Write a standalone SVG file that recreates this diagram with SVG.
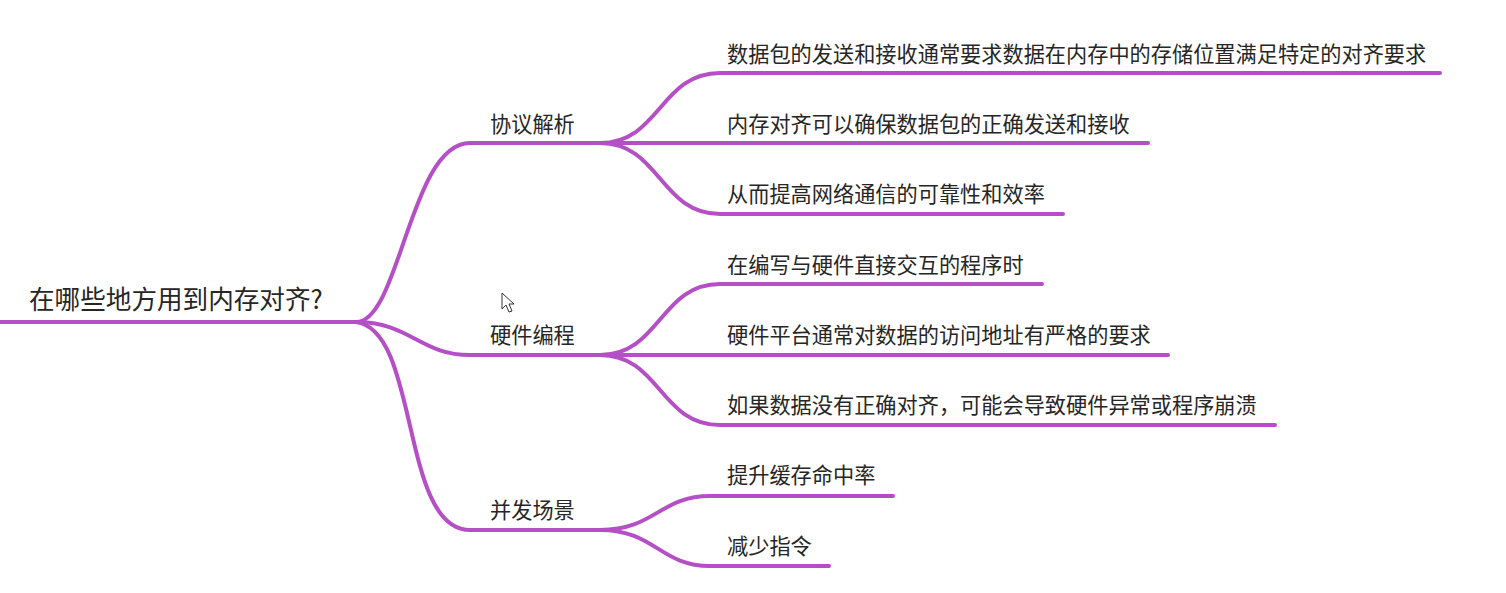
<svg xmlns="http://www.w3.org/2000/svg" width="1506" height="593" viewBox="0 0 1506 593">
<style>
.ln{fill:none;stroke:#B54FC6;stroke-width:4;stroke-linecap:round}
.t{font-family:"Noto Sans CJK SC","Microsoft YaHei",sans-serif;fill:#262626;font-size:21.2px}
.root{font-size:25.6px}
</style>
<rect width="1506" height="593" fill="#ffffff"/>
<g id="connectors">
<path class="ln" d="M0,322 L358,322"/>
<path class="ln" d="M356,322 C400,322 410,143 470,143 L607,143"/>
<path class="ln" d="M356,322 C410,322 420,355 470,355 L607,355"/>
<path class="ln" d="M356,322 C420,330 400,530 470,530 L607,530"/>
<path class="ln" d="M600,143 C660,143 660,73 720,73 L1440,73"/>
<path class="ln" d="M600,143 L1148,143"/>
<path class="ln" d="M600,143 C660,143 660,214 720,214 L1063,214"/>
<path class="ln" d="M600,355 C660,355 660,284 720,284 L1042,284"/>
<path class="ln" d="M600,355 L1168,355"/>
<path class="ln" d="M600,355 C660,355 660,425 720,425 L1275,425"/>
<path class="ln" d="M600,530 C655,530 660,496 710,496 L893,496"/>
<path class="ln" d="M600,530 C655,530 660,566 710,566 L829,566"/>
</g>
<g id="root"><text class="t root" x="29" y="309">在哪些地方用到内存对齐?</text></g>
<g id="b1"><text class="t" x="490" y="132">协议解析</text></g>
<g id="b2"><text class="t" x="490" y="343">硬件编程</text></g>
<g id="b3"><text class="t" x="490" y="518">并发场景</text></g>
<g id="l11"><text class="t" x="727" y="62">数据包的发送和接收通常要求数据在内存中的存储位置满足特定的对齐要求</text></g>
<g id="l12"><text class="t" x="727" y="132">内存对齐可以确保数据包的正确发送和接收</text></g>
<g id="l13"><text class="t" x="727" y="202">从而提高网络通信的可靠性和效率</text></g>
<g id="l21"><text class="t" x="727" y="273">在编写与硬件直接交互的程序时</text></g>
<g id="l22"><text class="t" x="727" y="343">硬件平台通常对数据的访问地址有严格的要求</text></g>
<g id="l23"><text class="t" x="727" y="413">如果数据没有正确对齐，可能会导致硬件异常或程序崩溃</text></g>
<g id="l31"><text class="t" x="727" y="483">提升缓存命中率</text></g>
<g id="l32"><text class="t" x="727" y="554">减少指令</text></g>
<g id="cursor"><path d="M502,293 L502,309 L506,305 L509,312 L512,311 L509,304 L514,304 Z" fill="#ffffff" stroke="#333333" stroke-width="1"/></g>
</svg>
